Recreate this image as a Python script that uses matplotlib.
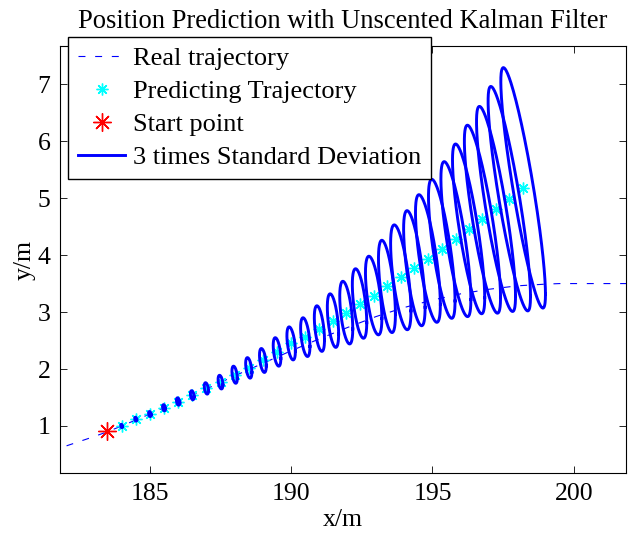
import numpy as np
import matplotlib
matplotlib.use("Agg")
import matplotlib.pyplot as plt

plt.rcParams["font.family"] = ["Liberation Serif", "DejaVu Serif"]
plt.rcParams["font.size"] = 18.5
plt.rcParams["lines.scale_dashes"] = False

# real trajectory (dashed)
real_x = [181.5, 181.8, 183.0, 183.5, 184.0, 185.0, 186.0, 187.0, 188.0, 189.0, 190.0,
          191.0, 192.0, 193.0, 194.0, 195.0, 196.0, 197.0, 198.0, 199.0, 199.5, 202.5]
real_y = [0.55, 0.61, 0.81, 0.90, 1.00, 1.21, 1.43, 1.65, 1.88, 2.10, 2.32,
          2.53, 2.73, 2.92, 3.08, 3.21, 3.32, 3.40, 3.46, 3.49, 3.50, 3.50]

start_x = [183.5]
start_y = [0.91]

# UKF predicted positions
pred_x = [184.00, 184.50, 185.00, 185.50, 186.00, 186.50, 187.00, 187.50, 188.00, 188.50,
          189.00, 189.50, 190.00, 190.50, 191.00, 191.48, 191.95, 192.42, 192.92, 193.39,
          193.88, 194.36, 194.84, 195.33, 195.83, 196.28, 196.77, 197.25, 197.72, 198.21]
pred_y = [1.00, 1.12, 1.21, 1.32, 1.43, 1.54, 1.66, 1.77, 1.90, 2.02,
          2.15, 2.30, 2.45, 2.56, 2.71, 2.85, 2.99, 3.15, 3.29, 3.45,
          3.61, 3.77, 3.94, 4.11, 4.28, 4.46, 4.63, 4.81, 4.99, 5.18]

# 3-sigma half widths and x-y correlation
sd3_x = [0.030, 0.035, 0.045, 0.050, 0.060, 0.065, 0.075, 0.085, 0.095, 0.110,
         0.120, 0.135, 0.150, 0.165, 0.180, 0.200, 0.230, 0.255, 0.290, 0.300,
         0.360, 0.380, 0.440, 0.470, 0.530, 0.570, 0.640, 0.690, 0.750, 0.790]
sd3_y = [0.03, 0.035, 0.045, 0.055, 0.065, 0.08, 0.10, 0.12, 0.15, 0.18,
         0.21, 0.25, 0.29, 0.34, 0.40, 0.47, 0.55, 0.61, 0.69, 0.81,
         0.92, 1.01, 1.12, 1.22, 1.36, 1.49, 1.65, 1.80, 1.97, 2.11]
rho = [-0.30, -0.30, -0.30, -0.30, -0.35, -0.35, -0.40, -0.40, -0.42, -0.44,
       -0.45, -0.46, -0.47, -0.48, -0.49, -0.50, -0.52, -0.55, -0.58, -0.60,
       -0.64, -0.68, -0.72, -0.75, -0.78, -0.81, -0.83, -0.85, -0.87, -0.885]

fig = plt.figure(figsize=(6.29, 5.33), dpi=100)
ax = fig.add_axes([60 / 629, 60 / 533, 566 / 629, 427 / 533])

ax.plot(real_x, real_y, color="b", linestyle="--", dashes=(5, 7), linewidth=0.8,
        label="Real trajectory")
ax.plot(pred_x, pred_y, linestyle="none", marker=(8, 2, 0), markersize=8.5,
        markeredgewidth=1.0, color="cyan", label="Predicting Trajectory")
ax.plot(start_x, start_y, linestyle="none", marker=(8, 2, 0), markersize=13,
        markeredgewidth=1.0, color="red", label="Start point")

t = np.linspace(0, 2 * np.pi, 200)
for i in range(len(pred_x)):
    a, b, r = sd3_x[i], sd3_y[i], rho[i]
    ex = pred_x[i] + a * np.cos(t)
    ey = pred_y[i] + b * (r * np.cos(t) + np.sqrt(1 - r * r) * np.sin(t))
    ax.plot(ex, ey, color="b", linewidth=2.1,
            label="3 times Standard Deviation" if i == 0 else "_nolegend_")

ax.set_xlim(181.82, 201.85)
ax.set_ylim(0.175, 7.67)
ax.set_xticks([185, 190, 195, 200])
ax.set_yticks([1, 2, 3, 4, 5, 6, 7])
ax.tick_params(direction="in", top=True, right=True, length=5, width=0.6, pad=7)
for s in ax.spines.values():
    s.set_linewidth(0.8)

ax.set_title("Position Prediction with Unscented Kalman Filter", fontsize=19.1, pad=13)
ax.set_xlabel("x/m", labelpad=3)
ax.set_ylabel("y/m", labelpad=1)

leg = ax.legend(loc="upper left", bbox_to_anchor=(68 / 629, 1 - 37 / 533),
                bbox_transform=fig.transFigure, borderaxespad=0, fancybox=False,
                edgecolor="black", framealpha=1, fontsize=19, handlelength=1.78,
                handletextpad=0.3, borderpad=0.38, labelspacing=0.36)
leg.get_frame().set_linewidth(1.0)

fig.savefig("out.png", dpi=100)
